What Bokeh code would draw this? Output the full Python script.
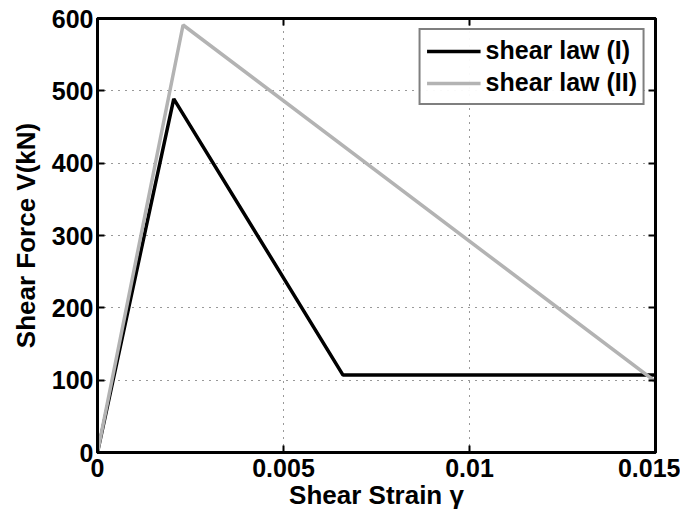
from bokeh.plotting import figure
from bokeh.models import LinearAxis, Range1d, FixedTicker, Legend, LegendItem
from bokeh.embed import file_html
from bokeh.resources import INLINE

# Data
law1_x = [0.0, 0.00205, 0.0066, 0.015]
law1_y = [0.0, 489.0, 107.0, 107.0]
law2_x = [0.0, 0.0023, 0.015]
law2_y = [0.0, 591.0, 98.0]
x_ticks = [0, 0.005, 0.01, 0.015]
x_tick_labels = {0: "0", 0.005: "0.005", 0.01: "0.01", 0.015: "0.015"}
y_ticks = [0, 100, 200, 300, 400, 500, 600]

FONT = "Liberation Sans"

p = figure(frame_width=558, frame_height=434, output_backend="svg", toolbar_location=None,
           x_range=Range1d(0, 0.015), y_range=Range1d(0, 600),
           min_border_left=97, min_border_top=18, min_border_right=25, min_border_bottom=56)
p.background_fill_color = "white"
p.border_fill_color = "white"
p.outline_line_color = "black"
p.outline_line_width = 3

r1 = p.line(law1_x, law1_y, line_color="black", line_width=3.5)
r2 = p.line(law2_x, law2_y, line_color="#b3b3b3", line_width=3.5)

for ax in (p.xaxis[0], p.yaxis[0]):
    ax.major_label_text_font = FONT
    ax.major_label_text_font_style = "bold"
    ax.major_label_text_font_size = "25px"
    ax.major_label_text_color = "black"
    ax.axis_label_text_font = FONT
    ax.axis_label_text_font_style = "bold"
    ax.axis_label_text_font_size = "26px"
    ax.axis_label_text_color = "black"
    ax.axis_line_width = 3
    ax.axis_line_color = "black"
    ax.major_tick_in = 7
    ax.major_tick_out = 0
    ax.major_tick_line_width = 2
    ax.minor_tick_line_color = None

p.xaxis[0].ticker = FixedTicker(ticks=x_ticks)
p.xaxis[0].major_label_overrides = x_tick_labels
p.yaxis[0].ticker = FixedTicker(ticks=y_ticks)
p.xaxis[0].axis_label = "Shear Strain γ"
p.yaxis[0].axis_label = "Shear Force V(kN)"
p.xaxis[0].major_label_standoff = 6
p.yaxis[0].major_label_standoff = 4
p.xaxis[0].axis_label_standoff = 0
p.yaxis[0].axis_label_standoff = 8

for side, ticks in (("above", x_ticks), ("right", y_ticks)):
    ax = LinearAxis(ticker=FixedTicker(ticks=ticks), major_label_text_font_size="1px",
                    major_label_text_color=None, major_label_standoff=0,
                    major_tick_in=7, major_tick_out=0, major_tick_line_width=2,
                    minor_tick_line_color=None, axis_line_width=3)
    p.add_layout(ax, side)

p.xgrid.ticker = FixedTicker(ticks=x_ticks)
p.ygrid.ticker = FixedTicker(ticks=y_ticks)
for g in (p.xgrid[0], p.ygrid[0]):
    g.grid_line_color = "black"
    g.grid_line_dash = "1 6"
    g.grid_line_width = 1
    g.grid_line_alpha = 0.8

legend = Legend(items=[LegendItem(label="shear law (I)", renderers=[r1]),
                       LegendItem(label="shear law (II)", renderers=[r2])],
                location="top_right")
legend.label_text_font = FONT
legend.label_text_font_style = "bold"
legend.label_text_font_size = "25px"
legend.label_text_color = "black"
legend.border_line_color = "black"
legend.border_line_width = 2.5
legend.glyph_width = 54
legend.label_standoff = 5
legend.spacing = 3
legend.padding = 6
legend.margin = 10
legend.label_height = 28
legend.glyph_height = 28
p.add_layout(legend)

open("out.html", "w").write(file_html(p, INLINE))
